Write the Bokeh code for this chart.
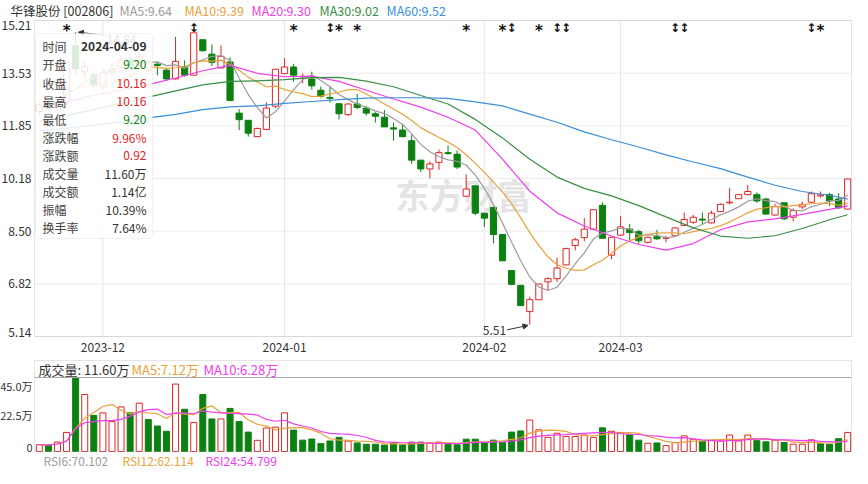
import numpy as np
import pandas as pd
from bokeh.plotting import figure
from bokeh.layouts import column
from bokeh.models import (Range1d, ColumnDataSource, Label, BoxAnnotation,
                          Arrow, NormalHead)
from bokeh.core.properties import value
from bokeh.embed import file_html
from bokeh.resources import INLINE

# ---------------- data ----------------
stock_name = "华锋股份"
stock_code = "002806"
last_date = "2024-04-09"
month_labels = ["2023-12", "2024-01", "2024-02", "2024-03"]
month_start_idx = [7, 27, 49, 64]

open_p = [12.31, 12.55, 12.40, 12.60, 14.41, 13.58, 13.48, 13.11, 13.58, 13.70,
          13.98, 13.80, 13.63, 13.82, 13.63, 13.35, 13.73, 13.47, 14.60, 14.14,
          13.70, 13.89, 12.26, 12.03, 11.51, 11.74, 12.48, 13.52, 13.73, 13.36,
          13.35, 12.99, 12.76, 12.56, 12.21, 12.55, 12.42, 12.24, 12.13, 11.79,
          11.72, 11.38, 10.76, 10.48, 10.69, 11.00, 10.95, 9.61, 9.94, 9.07,
          9.25, 8.39, 7.24, 6.77, 5.93, 6.31, 6.88, 6.98, 7.42, 8.04,
          8.29, 8.56, 9.32, 7.73, 8.37, 8.56, 8.48, 8.14, 8.32, 8.27,
          8.35, 8.68, 8.78, 8.88, 8.76, 9.12, 9.40, 9.53, 9.66, 9.66,
          9.52, 9.01, 9.40, 8.94, 9.27, 9.42, 9.62, 9.66, 9.52, 9.20]
high_p = [12.60, 12.65, 12.70, 13.88, 14.84, 13.90, 13.60, 13.70, 13.85, 14.10,
          14.15, 14.25, 13.95, 13.89, 13.68, 14.69, 13.94, 14.82, 14.62, 14.45,
          14.42, 14.04, 12.39, 12.03, 11.80, 12.60, 13.66, 14.01, 13.83, 13.52,
          13.58, 13.11, 13.11, 12.56, 12.58, 12.87, 12.49, 12.29, 12.35, 11.96,
          11.90, 11.57, 10.76, 10.72, 11.10, 11.23, 11.07, 10.31, 9.94, 9.07,
          9.28, 8.39, 7.24, 6.77, 6.41, 6.81, 7.03, 7.65, 7.97, 8.29,
          8.91, 9.18, 9.42, 8.30, 8.97, 8.73, 8.54, 8.32, 8.54, 8.35,
          8.62, 9.09, 9.01, 9.09, 9.15, 9.38, 9.87, 9.68, 9.97, 9.73,
          9.56, 9.37, 9.40, 9.22, 9.44, 9.76, 9.76, 9.72, 9.71, 10.16]
low_p = [12.22, 12.35, 12.33, 12.55, 13.50, 13.40, 13.05, 13.00, 13.40, 13.62,
         13.70, 13.75, 13.55, 13.47, 13.29, 13.33, 13.42, 13.45, 14.22, 13.76,
         13.70, 12.66, 11.72, 11.51, 11.49, 11.72, 12.42, 13.50, 13.26, 13.21,
         13.01, 12.75, 12.60, 12.06, 12.18, 12.39, 12.18, 11.96, 11.82, 11.38,
         11.48, 10.64, 10.38, 10.18, 10.45, 10.93, 10.48, 9.59, 9.01, 8.63,
         8.11, 7.55, 6.77, 6.12, 5.51, 6.31, 6.60, 6.88, 7.40, 7.88,
         8.17, 8.53, 8.25, 7.60, 8.35, 8.19, 8.09, 8.10, 8.22, 8.14,
         8.33, 8.65, 8.73, 8.70, 8.74, 9.10, 9.35, 9.52, 9.64, 9.40,
         9.02, 8.99, 8.84, 8.81, 9.20, 9.40, 9.56, 9.30, 9.20, 9.20]
close_p = [12.52, 12.42, 12.62, 13.88, 13.67, 13.73, 13.14, 13.54, 13.65, 13.95,
           13.78, 14.05, 13.91, 13.78, 13.35, 13.91, 13.47, 14.82, 14.25, 13.88,
           14.07, 12.66, 12.05, 11.62, 11.77, 12.42, 13.66, 13.73, 13.47, 13.37,
           13.13, 12.80, 12.73, 12.24, 12.55, 12.44, 12.26, 12.16, 11.82, 11.75,
           11.51, 10.76, 10.48, 10.64, 11.00, 10.97, 10.54, 9.84, 9.07, 8.91,
           8.39, 7.55, 6.80, 6.12, 6.31, 6.81, 6.98, 7.32, 7.94, 8.22,
           8.56, 9.18, 8.27, 8.30, 8.63, 8.45, 8.19, 8.30, 8.25, 8.28,
           8.60, 8.87, 8.94, 8.85, 9.07, 9.35, 9.42, 9.66, 9.76, 9.46,
           9.04, 9.28, 8.89, 9.15, 9.35, 9.69, 9.65, 9.46, 9.24, 10.16]
# volume, unit: 万手
volume_wan = [4.1, 3.9, 5.7, 11.6, 45.0, 34.7, 21.9, 23.5, 18.2, 27.1,
              23.5, 29.4, 19.4, 15.5, 12.3, 41.0, 25.7, 17.6, 34.7, 19.8,
              19.8, 26.2, 18.2, 11.8, 6.8, 14.3, 14.8, 23.5, 13.0, 6.9,
              7.6, 4.8, 6.4, 8.6, 6.3, 5.2, 4.4, 4.4, 3.9, 5.2,
              4.1, 5.7, 5.7, 5.2, 5.7, 4.4, 4.1, 7.5, 7.5, 5.2,
              6.9, 5.5, 11.8, 12.5, 19.1, 13.2, 8.6, 11.1, 9.1, 9.1,
              10.0, 8.6, 14.4, 12.3, 11.6, 10.2, 6.9, 5.0, 5.2, 3.6,
              5.5, 9.5, 7.5, 6.3, 6.8, 6.4, 10.0, 6.4, 10.0, 6.6,
              5.9, 6.9, 5.5, 4.5, 4.4, 7.1, 4.7, 4.4, 7.8, 11.6]
turnover_yi = 1.14
turnover_rate_pct = 7.64

# long moving averages (they depend on earlier history)
ma_sample_idx = list(range(0, 90, 3)) + [89]
ma20_vals = [12.43, 12.62, 12.83, 12.99, 13.17, 13.38, 13.61, 13.78, 13.53, 13.42,
             13.44, 13.27, 12.99, 12.71, 12.45, 12.13, 11.72, 10.79, 9.77, 9.08,
             8.66, 8.34, 8.07, 7.89, 8.10, 8.54, 8.79, 8.89, 9.03, 9.19, 9.30]
ma30_vals = [12.00, 12.19, 12.37, 12.56, 12.77, 12.97, 13.16, 13.27, 13.29, 13.33,
             13.39, 13.40, 13.28, 13.10, 12.82, 12.55, 12.06, 11.47, 10.79, 10.22,
             9.86, 9.62, 9.31, 8.95, 8.60, 8.34, 8.27, 8.35, 8.58, 8.86, 9.02]
ma60_vals = [11.69, 11.78, 11.88, 11.97, 12.11, 12.22, 12.37, 12.46, 12.49, 12.57,
             12.63, 12.69, 12.74, 12.75, 12.75, 12.73, 12.62, 12.49, 12.23, 11.97,
             11.66, 11.41, 11.18, 10.93, 10.70, 10.49, 10.22, 9.96, 9.76, 9.64, 9.52]

events_star = [3, 28, 33, 35, 47, 51, 55, 86]
events_arrow = [17, 32, 52, 57, 58, 70, 71, 85]
rsi_texts = ["RSI6:70.102", "RSI12:62.114", "RSI24:54.799"]

# ---------------- styles / layout (pixels) ----------------
CJK = "Noto Sans CJK SC"
RED = "#e02424"
GREEN = "#0d8012"
DARK = "#333333"
BORDER = "#a8a8a8"
C_MA5 = "#9c9c9c"
C_MA10 = "#e9a23b"
C_MA20 = "#ef3cef"
C_MA30 = "#3a8f46"
C_MA60 = "#3b8fd6"

W = 852
PL, PR = 34, 851               # inner plot left / right (canvas px)
H1 = 356                       # main canvas height
PT, PB = 20, 336               # main plot top / bottom (from canvas top)
H2 = 112                       # volume canvas height
VT, VS, VB = 4, 21, 95         # volume box top, header separator, bars bottom

n = len(close_p)
idx = np.arange(n)
o = np.array(open_p); h = np.array(high_p); l = np.array(low_p); c = np.array(close_p)
vol = np.array(volume_wan)

ma5 = pd.Series(c).rolling(5, min_periods=1).mean().to_numpy()
ma10 = pd.Series(c).rolling(10, min_periods=1).mean().to_numpy()
vma5 = pd.Series(vol).rolling(5, min_periods=1).mean().to_numpy()
vma10 = pd.Series(vol).rolling(10, min_periods=1).mean().to_numpy()

up = c >= o
cand_col = np.where(up, RED, GREEN)
cand_fill = np.where(up, "white", GREEN)
prev_c = np.concatenate([[o[0]], c[:-1]])
vol_up = c >= prev_c
vol_col = np.where(vol_up, RED, GREEN)
vol_fill = np.where(vol_up, "white", GREEN)

hi_idx = int(np.argmax(h)); lo_idx = int(np.argmin(l))
hi = h[hi_idx]; lo = l[lo_idx]
pad = 0.04 * (hi - lo)
y_lo, y_hi = lo - pad, hi + pad
y_ticks = list(np.linspace(y_lo, y_hi, 7))

x0, x1 = -0.53, 89.42                      # plotted index span
ppx = (PR - PL) / (x1 - x0)
xr = Range1d(x0 - PL / ppx, x1 + (W - PR) / ppx)
ppy = (PB - PT) / (y_hi - y_lo)
yr = Range1d(y_lo - (H1 - PB) / ppy, y_hi + PT / ppy)


def label(fig, x, y, text, color=DARK, size="12px", align="left", base="middle",
          xu="screen", yu="screen", style="normal", **kw):
    fig.add_layout(Label(x=x, y=y, x_units=xu, y_units=yu, text=text, text_font=CJK,
                         text_font_size=size, text_color=color, text_align=align,
                         text_baseline=base, text_font_style=style, **kw))


def bare(fig):
    fig.xgrid.grid_line_color = None
    fig.ygrid.grid_line_color = None
    fig.outline_line_color = None


p1 = figure(width=W, height=H1, x_range=xr, y_range=yr, output_backend="svg",
            toolbar_location=None, x_axis_location=None, y_axis_location=None,
            min_border=0, background_fill_color="white", border_fill_color="white")
bare(p1)

# grid
p1.segment(x0=[x0] * len(y_ticks), x1=[x1] * len(y_ticks), y0=y_ticks, y1=y_ticks,
           line_color="#ececec", line_width=1)
p1.segment(x0=month_start_idx, x1=month_start_idx, y0=[y_lo] * len(month_start_idx),
           y1=[y_hi] * len(month_start_idx), line_color="#e6e6e6", line_width=1)

# watermark
label(p1, 463, H1 - 194, "东方财富", color="#e4e4e4", size="34px", align="center",
      style="bold", level="underlay")

src = ColumnDataSource(dict(x=idx, top=np.maximum(o, c), bottom=np.minimum(o, c),
                            high=h, low=l, color=cand_col, fill=cand_fill))
p1.segment(x0="x", y0="low", x1="x", y1="high", line_color="color", line_width=1, source=src)
p1.vbar(x="x", top="top", bottom="bottom", width=0.68, fill_color="fill",
        line_color="color", line_width=1, source=src)

p1.line(idx, ma5, line_color=C_MA5, line_width=1.2)
p1.line(idx, ma10, line_color=C_MA10, line_width=1.2)
p1.line(ma_sample_idx, ma20_vals, line_color=C_MA20, line_width=1.2)
p1.line(ma_sample_idx, ma30_vals, line_color=C_MA30, line_width=1.2)
p1.line(ma_sample_idx, ma60_vals, line_color=C_MA60, line_width=1.2)

# plot border
p1.add_layout(BoxAnnotation(left=x0, right=x1, bottom=y_lo, top=y_hi, fill_alpha=0,
                            line_color=BORDER, line_width=1))

# event markers along the top edge
p1.text(x=events_star, y=[y_hi] * len(events_star), text=["*"] * len(events_star),
        text_font=value("DejaVu Sans"), text_font_style="bold", text_font_size="15px",
        text_align="center", text_baseline="top", text_color="#111111", y_offset=1)
p1.text(x=events_arrow, y=[y_hi] * len(events_arrow), text=["↕"] * len(events_arrow),
        text_font=value("DejaVu Sans"), text_font_style="bold", text_font_size="12px",
        text_align="center", text_baseline="top", text_color="#111111", y_offset=0)

# max / min marks
p1.add_layout(Arrow(x_start=hi_idx + 3.2, y_start=hi - 0.1, x_end=hi_idx + 0.3, y_end=hi,
                    line_color=DARK, line_width=1,
                    end=NormalHead(size=5, fill_color=DARK, line_color=DARK)))
label(p1, hi_idx + 3.4, hi - 0.22, f"{hi:.2f}", xu="data", yu="data")
p1.add_layout(Arrow(x_start=lo_idx - 2.5, y_start=lo - 0.16, x_end=lo_idx - 0.2, y_end=lo - 0.02,
                    line_color=DARK, line_width=1,
                    end=NormalHead(size=5, fill_color=DARK, line_color=DARK)))
label(p1, lo_idx - 2.6, lo - 0.19, f"{lo:.2f}", align="right", xu="data", yu="data")

# price labels
for k, v in enumerate(y_ticks):
    base = "bottom" if k == 0 else ("top" if k == len(y_ticks) - 1 else "middle")
    label(p1, PL - 3, v, f"{v + 1e-9:.2f}", align="right", base=base, yu="data")

# month labels
for i, s in zip(month_start_idx, month_labels):
    label(p1, i, H1 - 347, s, align="center", xu="data")

# title line
title_parts = [(f"{stock_name} [{stock_code}]", DARK, 10),
               (f"MA5:{ma5[-1]:.2f}", C_MA5, 119),
               (f"MA10:{ma10[-1]:.2f}", C_MA10, 184),
               (f"MA20:{ma20_vals[-1]:.2f}", C_MA20, 251),
               (f"MA30:{ma30_vals[-1]:.2f}", C_MA30, 319),
               (f"MA60:{ma60_vals[-1]:.2f}", C_MA60, 386)]
for txt, col, xx in title_parts:
    label(p1, xx, H1 - 10, txt, color=col, size="12.5px")

# info panel
pc = c[-2]
def tone(v):
    return RED if v > pc + 1e-9 else (GREEN if v < pc - 1e-9 else DARK)
chg = c[-1] - pc
rows = [("时间", last_date, DARK, "bold"),
        ("开盘", f"{o[-1]:.2f}", tone(o[-1]), "normal"),
        ("收盘", f"{c[-1]:.2f}", tone(c[-1]), "normal"),
        ("最高", f"{h[-1]:.2f}", tone(h[-1]), "normal"),
        ("最低", f"{l[-1]:.2f}", tone(l[-1]), "normal"),
        ("涨跌幅", f"{chg / pc * 100:.2f}%", tone(c[-1]), "normal"),
        ("涨跌额", f"{chg:.2f}", tone(c[-1]), "normal"),
        ("成交量", f"{vol[-1]:.2f}万", DARK, "normal"),
        ("成交额", f"{turnover_yi:.2f}亿", DARK, "normal"),
        ("振幅", f"{(h[-1] - l[-1]) / pc * 100:.2f}%", DARK, "normal"),
        ("换手率", f"{turnover_rate_pct:.2f}%", DARK, "normal")]
TL, TT = PL + 1, PT + 13
p1.add_layout(BoxAnnotation(left=TL, right=TL + 117, top=H1 - TT, bottom=H1 - TT - 205,
                            left_units="screen", right_units="screen",
                            top_units="screen", bottom_units="screen",
                            fill_color="white", fill_alpha=0.86, line_color="#cfcfcf",
                            line_width=1, border_radius=4))
for k, (name, val, col, style) in enumerate(rows):
    yy = H1 - (TT + 13.3 + 18.1 * k)
    label(p1, TL + 7, yy, name, color="#444444")
    label(p1, TL + 111, yy, val, color=col, align="right", style=style)

# ---------------- volume panel ----------------
vmax = float(vol.max())
ppv = (VB - VS) / vmax
yr2 = Range1d(-(H2 - VB) / ppv, vmax + VS / ppv)
p2 = figure(width=W, height=H2, x_range=xr, y_range=yr2, output_backend="svg",
            toolbar_location=None, x_axis_location=None, y_axis_location=None,
            min_border=0, background_fill_color="white", border_fill_color="white")
bare(p2)

vsrc = ColumnDataSource(dict(x=idx, top=vol, color=vol_col, fill=vol_fill))
p2.vbar(x="x", top="top", bottom=0, width=0.66, fill_color="fill", line_color="color",
        line_width=1, source=vsrc)
p2.line(idx, vma5, line_color=C_MA10, line_width=1.2)
p2.line(idx, vma10, line_color=C_MA20, line_width=1.2)

p2.add_layout(BoxAnnotation(left=x0, right=x1, bottom=0, top=vmax + (VS - VT) / ppv,
                            fill_alpha=0, line_color=BORDER, line_width=1))
p2.segment(x0=[x0], x1=[x1], y0=[vmax], y1=[vmax], line_color=BORDER, line_width=1)

for txt, col, xx in [(f"成交量: {vol[-1]:.2f}万", DARK, 4),
                     (f"MA5:{vma5[-1]:.2f}万", C_MA10, 97),
                     (f"MA10:{vma10[-1]:.2f}万", C_MA20, 169)]:
    label(p2, PL + xx, H2 - (VT + VS) / 2, txt, color=col, size="13px")

for v, base, txt in [(vmax, "top", f"{vmax:.1f}万"), (vmax / 2, "middle", f"{vmax / 2:.1f}万"),
                     (0, "bottom", "0")]:
    label(p2, PL - 2, v, txt, size="11px", align="right", base=base, yu="data")

for txt, col, xx in zip(rsi_texts, [C_MA5, C_MA10, C_MA20], [9, 88, 171]):
    label(p2, PL + xx, H2 - 104, txt, color=col)

layout = column(p1, p2)
open("out.html", "w").write(file_html(layout, INLINE))
